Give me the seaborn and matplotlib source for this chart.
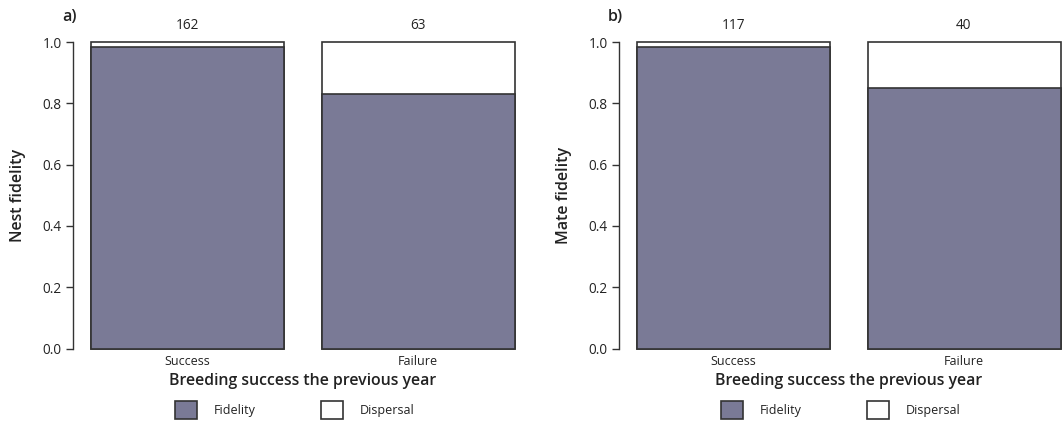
import matplotlib
matplotlib.use("Agg")
import matplotlib.pyplot as plt
import seaborn as sns
import pandas as pd
from matplotlib.patches import Patch

# data
categories = ["Success", "Failure"]
nest_fidelity = [0.984, 0.829]
mate_fidelity = [0.984, 0.851]
nest_counts = [162, 63]
mate_counts = [117, 40]
panel_labels = ["a)", "b)"]
y_labels = ["Nest fidelity", "Mate fidelity"]
legend_labels = ["Fidelity", "Dispersal"]
yticks = [0.0, 0.2, 0.4, 0.6, 0.8, 1.0]

FILL = "#7a7a96"
EDGE = "#333333"
TEXT = "#222222"

sns.set_theme(style="white")
plt.rcParams["font.family"] = ["Open Sans", "DejaVu Sans"]

W, H = 1063, 422
fig = plt.figure(figsize=(W / 100, H / 100), dpi=100)

px_per_unit = 230.5
bar_width = 193 / px_per_unit
left_px = [73, 619]
x0_px = [187.5, 733.5]
bottom_px, top_px = 348.5, 42


def draw_panel(i, fidelity, counts):
    ax_w = 444
    ax = fig.add_axes([left_px[i] / W, (H - bottom_px) / H,
                       ax_w / W, (bottom_px - top_px) / H])
    df = pd.DataFrame({"cat": categories, "total": [1.0, 1.0], "fid": fidelity})
    sns.barplot(data=df, x="cat", y="total", color="white", edgecolor=EDGE,
                linewidth=1.2, width=bar_width, saturation=1, ax=ax)
    sns.barplot(data=df, x="cat", y="fid", color=FILL, edgecolor=EDGE,
                linewidth=1.2, width=bar_width, saturation=1, ax=ax)
    for p in ax.patches:
        p.set_clip_on(False)
    lo = (left_px[i] - x0_px[i]) / px_per_unit
    ax.set_xlim(lo, lo + ax_w / px_per_unit)
    ax.set_ylim(0, 1)
    ax.set_yticks(yticks)
    ax.set_yticklabels([f"{t:.1f}" for t in yticks])
    for s in ["top", "right", "bottom"]:
        ax.spines[s].set_visible(False)
    ax.spines["left"].set_color(EDGE)
    ax.spines["left"].set_linewidth(1.0)
    ax.tick_params(axis="y", left=True, direction="out", length=5, width=1.0,
                   color=EDGE, labelsize=9.8, labelcolor=TEXT, pad=3)
    ax.tick_params(axis="x", bottom=False, labelsize=9, labelcolor=TEXT, pad=-1)
    ax.set_xlabel("")
    ax.set_ylabel(y_labels[i], fontsize=11.5, color=TEXT, fontweight="semibold",
                  labelpad=12)

    for j, n in enumerate(counts):
        ax.text(j, 1.03, str(n), ha="center", va="bottom", fontsize=9.8, color=TEXT)

    center_px = x0_px[i] + px_per_unit / 2
    fig.text(center_px / W, 1 - 381 / H, "Breeding success the previous year",
             ha="center", va="center", fontsize=11.4, color=TEXT, fontweight="semibold")
    fig.text((left_px[i] + 4) / W, 1 - 17 / H, panel_labels[i], ha="right",
             va="center", fontsize=11.5, color=TEXT, fontweight="semibold")

    handles = [Patch(facecolor=FILL, edgecolor=EDGE, linewidth=1.2),
               Patch(facecolor="white", edgecolor=EDGE, linewidth=1.2)]
    fig.legend(handles, legend_labels, loc="center",
               bbox_to_anchor=((center_px - 8) / W, 1 - 410 / H),
               ncol=2, frameon=False, fontsize=9, handlelength=1.75,
               handleheight=1.75, handletextpad=1.3, columnspacing=5.3,
               borderpad=0, labelcolor=TEXT)
    return ax


draw_panel(0, nest_fidelity, nest_counts)
draw_panel(1, mate_fidelity, mate_counts)

fig.savefig("out.png", dpi=100)
